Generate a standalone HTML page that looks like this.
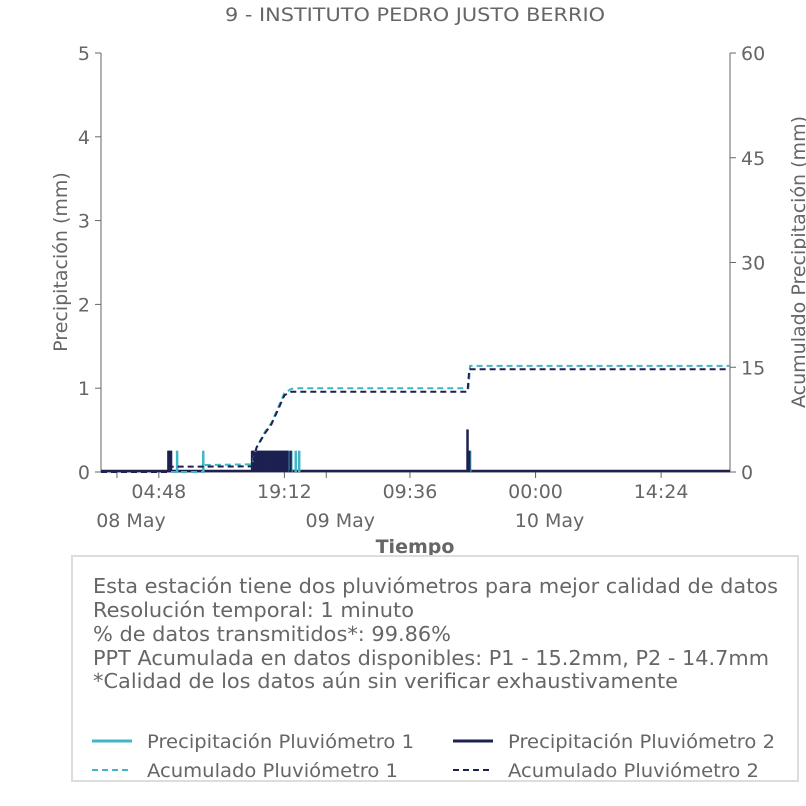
<!DOCTYPE html>
<html><head><meta charset="utf-8"><style>
body{margin:0;background:#fff}
svg{display:block}
text{font-family:"DejaVu Sans","Liberation Sans",sans-serif;fill:#666}
</style></head><body>
<svg id="chart" width="806" height="806" viewBox="0 0 806 806" xmlns="http://www.w3.org/2000/svg">
<text x="415" y="21" font-size="19" text-anchor="middle" textLength="380" lengthAdjust="spacingAndGlyphs">9 - INSTITUTO PEDRO JUSTO BERRIO</text>
<g id="plot"></g>
<text transform="translate(67,262) rotate(-90)" font-size="19" text-anchor="middle">Precipitación (mm)</text>
<text transform="translate(805,262) rotate(-90)" font-size="19" text-anchor="middle">Acumulado Precipitación (mm)</text>
<text x="415" y="553" font-size="19" font-weight="bold" text-anchor="middle">Tiempo</text>
<rect x="72" y="556" width="726" height="225" fill="#fff" stroke="#ddd" stroke-width="2"/>
<g font-size="20">
<text x="93" y="593" textLength="685" lengthAdjust="spacingAndGlyphs">Esta estación tiene dos pluviómetros para mejor calidad de datos</text>
<text x="93" y="617" textLength="321" lengthAdjust="spacingAndGlyphs">Resolución temporal: 1 minuto</text>
<text x="93" y="641" textLength="358" lengthAdjust="spacingAndGlyphs">% de datos transmitidos*: 99.86%</text>
<text x="93" y="665" textLength="676" lengthAdjust="spacingAndGlyphs">PPT Acumulada en datos disponibles: P1 - 15.2mm, P2 - 14.7mm</text>
<text x="93" y="688" textLength="585" lengthAdjust="spacingAndGlyphs">*Calidad de los datos aún sin verificar exhaustivamente</text>
</g>
<g font-size="19">
<g><line x1="92" y1="741" x2="132" y2="741" stroke="#41b6c4" stroke-width="3"/><text x="147" y="748" textLength="267" lengthAdjust="spacingAndGlyphs">Precipitación Pluviómetro 1</text></g>
<g><line x1="453" y1="741" x2="493" y2="741" stroke="#1d2150" stroke-width="3"/><text x="508" y="748" textLength="267" lengthAdjust="spacingAndGlyphs">Precipitación Pluviómetro 2</text></g>
<g><line x1="92" y1="770" x2="132" y2="770" stroke="#41b6c4" stroke-width="2" stroke-dasharray="6,4"/><text x="147" y="777" textLength="251" lengthAdjust="spacingAndGlyphs">Acumulado Pluviómetro 1</text></g>
<g><line x1="453" y1="770" x2="493" y2="770" stroke="#1d2150" stroke-width="2" stroke-dasharray="6,4"/><text x="508" y="777" textLength="251" lengthAdjust="spacingAndGlyphs">Acumulado Pluviómetro 2</text></g>
</g>
</svg>
<script>
// hours from 08 May 00:00
const xDomain = [-1.83, 70.3];
const p1Times = [6.9, 9.9, 15.6, 16.0, 16.4, 16.8, 17.2, 17.6, 18.0, 18.4, 18.8, 19.2, 19.6, 20.0, 20.5, 20.9, 40.5];
const p1Values = [0.254, 0.254, 0.254, 0.254, 0.254, 0.254, 0.254, 0.254, 0.254, 0.254, 0.254, 0.254, 0.254, 0.254, 0.254, 0.254, 0.254];
const p2Times = [5.9, 6.0, 6.1, 6.2, 15.5, 15.65, 15.8, 15.95, 16.1, 16.25, 16.4, 16.55, 16.7, 16.85, 17.0, 17.15, 17.3, 17.45, 17.6, 17.75, 17.9, 18.05, 18.2, 18.35, 18.5, 18.65, 18.8, 18.95, 19.1, 19.25, 19.4, 19.55, 19.9, 40.2, 40.3, 40.4];
const p2Values = [0.254, 0.254, 0.254, 0.254, 0.254, 0.254, 0.254, 0.254, 0.254, 0.254, 0.254, 0.254, 0.254, 0.254, 0.254, 0.254, 0.254, 0.254, 0.254, 0.254, 0.254, 0.254, 0.254, 0.254, 0.254, 0.254, 0.254, 0.254, 0.254, 0.254, 0.254, 0.254, 0.254, 0.508, 0.254, 0.254];
const acc1Times = [-1.83, 9.9, 10.0, 15.5, 16.0, 17.0, 17.7, 18.5, 19.2, 20.0, 20.9, 40.3, 40.5, 70.3];
const acc1Values = [0, 0, 1.0, 1.1, 3.5, 5.8, 7.0, 9.3, 11.3, 11.9, 12.0, 12.0, 15.2, 15.2];
const acc2Times = [-1.83, 5.9, 6.2, 15.5, 16.0, 17.0, 17.7, 18.5, 19.2, 20.0, 40.2, 40.4, 70.3];
const acc2Values = [0, 0, 0.76, 0.8, 3.5, 5.6, 6.8, 9.0, 11.0, 11.5, 11.5, 14.7, 14.7];
const yTicks = [0, 1, 2, 3, 4, 5];
const y2Ticks = [0, 15, 30, 45, 60];
const xMajorTicks = [4.8, 19.2, 33.6, 48, 62.4];
const xMajorLabels = ["04:48", "19:12", "09:36", "00:00", "14:24"];
const xDayTicks = [0, 24, 48];
const xDayLabels = ["08 May", "09 May", "10 May"];

const L = 101, R = 730, T = 53, B = 472;
const xs = h => L + (h - xDomain[0]) / (xDomain[1] - xDomain[0]) * (R - L);
const ys = v => B - v / 5 * (B - T);
const y2s = v => B - v / 60 * (B - T);
const NS = "http://www.w3.org/2000/svg";
const g = document.getElementById('plot');
function mk(tag, attrs, parent) {
  const e = document.createElementNS(NS, tag);
  for (const k in attrs) e.setAttribute(k, attrs[k]);
  (parent || g).appendChild(e);
  return e;
}
// axes
let e = mk('line', {x1: L, y1: T, x2: L, y2: B, stroke: '#666', 'stroke-width': 1});


e = mk('line', {x1: R, y1: T, x2: R, y2: B, stroke: '#666', 'stroke-width': 1});


e = mk('line', {x1: L, y1: B, x2: R, y2: B, stroke: '#666', 'stroke-width': 1});


yTicks.forEach(v => {
  mk('line', {x1: L - 6, y1: ys(v), x2: L, y2: ys(v), stroke: '#666'});
  const t = mk('text', {x: L - 11, y: ys(v) + 7, 'font-size': 19, 'text-anchor': 'end'});
  t.textContent = v;
  
  
});
y2Ticks.forEach(v => {
  mk('line', {x1: R, y1: y2s(v), x2: R + 6, y2: y2s(v), stroke: '#666'});
  const t = mk('text', {x: R + 11, y: y2s(v) + 7, 'font-size': 19});
  t.textContent = v;
  
  
});
xMajorTicks.forEach((h, i) => {
  mk('line', {x1: xs(h), y1: B, x2: xs(h), y2: B + 6, stroke: '#666'});
  const t = mk('text', {x: xs(h), y: B + 26, 'font-size': 19, 'text-anchor': 'middle'});
  t.textContent = xMajorLabels[i];
  
  
});
xDayTicks.forEach((h, i) => {
  mk('line', {x1: xs(h), y1: B, x2: xs(h), y2: B + 6, stroke: '#666'});
  const t = mk('text', {x: xs(h) + 14, y: B + 55, 'font-size': 19, 'text-anchor': 'middle'});
  t.textContent = xDayLabels[i];
  
  
});
// baseline of precipitation series
e = mk('line', {x1: L, y1: B - 1, x2: R, y2: B - 1, stroke: '#1d2150', 'stroke-width': 2.5});


function bars(times, vals, color, name) {
  times.forEach((h, i) => {
    const b = mk('line', {x1: xs(h), y1: B, x2: xs(h), y2: ys(vals[i]), stroke: color, 'stroke-width': 2.5});
    
    
  });
}
bars(p1Times, p1Values, '#41b6c4', 'bar-p1');
bars(p2Times, p2Values, '#1d2150', 'bar-p2');
function acc(times, vals, color, name) {
  const d = times.map((h, i) => (i ? 'L' : 'M') + xs(h).toFixed(1) + ',' + y2s(vals[i]).toFixed(1)).join(' ');
  const p = mk('path', {d: d, fill: 'none', stroke: color, 'stroke-width': 2, 'stroke-dasharray': '6,4'});
  
  
}
acc(acc1Times, acc1Values, '#41b6c4', 'acc-line-p1');
acc(acc2Times, acc2Values, '#1d2150', 'acc-line-p2');
</script>
</body></html>
